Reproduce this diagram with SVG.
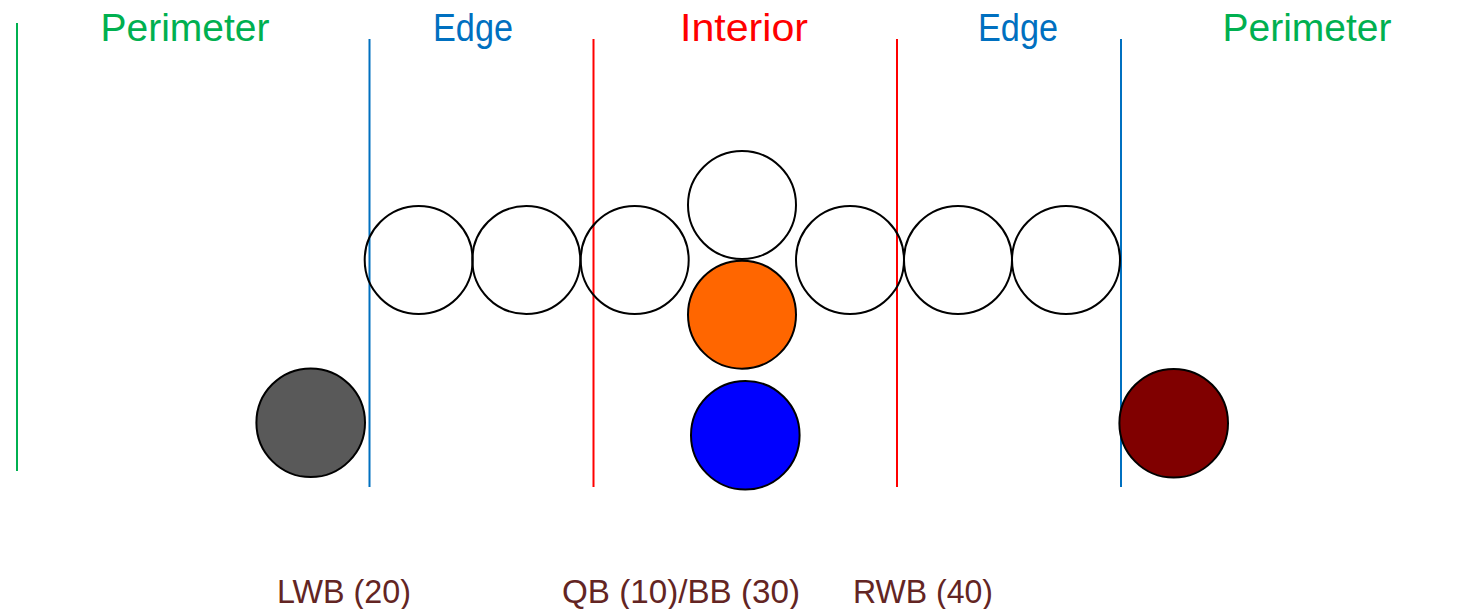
<svg xmlns="http://www.w3.org/2000/svg" width="1476" height="609" viewBox="0 0 1476 609">
<style>
.t{font-family:"Liberation Sans",Arial,sans-serif;text-anchor:middle}
.h{font-size:39px}
.l{font-size:33px;fill:#632523}
.c{stroke:#000;stroke-width:2}
.g{fill:#00b050}.b{fill:#0070c0}.r{fill:#ff0000}
</style>
<rect width="1476" height="609" fill="#fff"/>
<g id="zone-lines" stroke-width="2">
<line x1="17" y1="23" x2="17" y2="471" stroke="#00b050"/>
<line x1="369.5" y1="39" x2="369.5" y2="487" stroke="#0070c0"/>
<line x1="593.5" y1="39" x2="593.5" y2="487" stroke="#ff0000"/>
<line x1="897" y1="39" x2="897" y2="487" stroke="#ff0000"/>
<line x1="1121" y1="39" x2="1121" y2="487" stroke="#0070c0"/>
</g>
<g id="headers">
<text class="t h g" x="185" y="41" textLength="169" lengthAdjust="spacingAndGlyphs">Perimeter</text>
<text class="t h b" x="473" y="41" textLength="80" lengthAdjust="spacingAndGlyphs">Edge</text>
<text class="t h r" x="744" y="41" textLength="128" lengthAdjust="spacingAndGlyphs">Interior</text>
<text class="t h b" x="1018" y="41" textLength="80" lengthAdjust="spacingAndGlyphs">Edge</text>
<text class="t h g" x="1307" y="41" textLength="169" lengthAdjust="spacingAndGlyphs">Perimeter</text>
</g>
<g id="line-1"><circle class="c" cx="418.7" cy="260" r="54" fill="none"/></g>
<g id="line-2"><circle class="c" cx="526.3" cy="260" r="54" fill="none"/></g>
<g id="line-3"><circle class="c" cx="634.7" cy="260" r="54" fill="none"/></g>
<g id="line-top"><circle class="c" cx="742" cy="205" r="54" fill="none"/></g>
<g id="line-5"><circle class="c" cx="850" cy="260" r="54" fill="none"/></g>
<g id="line-6"><circle class="c" cx="958" cy="260" r="54" fill="none"/></g>
<g id="line-7"><circle class="c" cx="1066" cy="260" r="54" fill="none"/></g>
<g id="qb"><circle class="c" cx="742" cy="314.7" r="54" fill="#ff6600"/></g>
<g id="bb"><circle class="c" cx="745.3" cy="435.2" r="54.3" fill="#0000ff"/></g>
<g id="lwb"><circle class="c" cx="310.7" cy="422.7" r="54.3" fill="#595959"/></g>
<g id="rwb"><circle class="c" cx="1173.7" cy="423.2" r="54.3" fill="#800000"/></g>
<g id="labels">
<text class="t l" x="344" y="603" textLength="134" lengthAdjust="spacingAndGlyphs">LWB (20)</text>
<text class="t l" x="681" y="603" textLength="238" lengthAdjust="spacingAndGlyphs">QB (10)/BB (30)</text>
<text class="t l" x="923" y="603" textLength="140" lengthAdjust="spacingAndGlyphs">RWB (40)</text>
</g>
</svg>
